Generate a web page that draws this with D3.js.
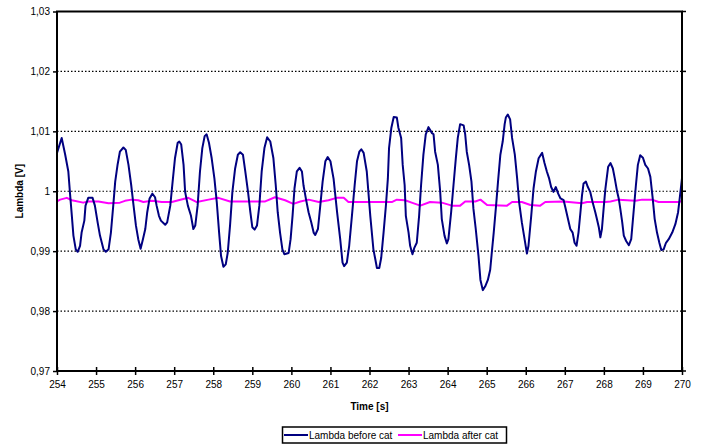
<!DOCTYPE html>
<html><head><meta charset="utf-8">
<script src="https://cdn.jsdelivr.net/npm/d3@7"></script>
<style>body{margin:0;background:#fff}svg{display:block}text{font-family:"Liberation Sans",Arial,sans-serif}</style>
</head><body>
<svg id="c" width="702" height="444"></svg>
<script>
const seriesNames = ["Lambda before cat", "Lambda after cat"];
const xTicks = [254,255,256,257,258,259,260,261,262,263,264,265,266,267,268,269,270];
const yTicks = [0.97,0.98,0.99,1.00,1.01,1.02,1.03];
const yTickLabels = ["0,97","0,98","0,99","1","1,01","1,02","1,03"];
const xTitle = "Time [s]";
const yTitle = "Lambda [V]";

const beforeT = [254.00,254.12,254.21,254.29,254.33,254.38,254.42,254.48,254.53,254.59,254.63,254.70,254.73,254.80,254.91,254.97,255.04,255.10,255.19,255.25,255.32,255.38,255.44,255.49,255.55,255.61,255.70,255.76,255.83,255.90,255.96,256.02,256.08,256.14,256.20,256.26,256.31,256.37,256.44,256.51,256.55,256.61,256.66,256.77,256.82,256.90,256.96,257.02,257.09,257.13,257.18,257.24,257.28,257.35,257.43,257.49,257.54,257.60,257.66,257.72,257.78,257.83,257.89,257.96,258.03,258.09,258.15,258.20,258.26,258.32,258.37,258.43,258.49,258.56,258.63,258.69,258.76,258.82,258.89,258.95,259.00,259.06,259.12,259.18,259.24,259.31,259.38,259.46,259.54,259.60,259.65,259.71,259.77,259.82,259.93,259.98,260.03,260.08,260.14,260.21,260.27,260.31,260.37,260.44,260.51,260.57,260.61,260.68,260.74,260.80,260.87,260.93,261.00,261.08,261.17,261.25,261.31,261.35,261.42,261.48,261.55,261.62,261.68,261.74,261.79,261.85,261.93,262.02,262.10,262.15,262.19,262.25,262.30,262.36,262.42,262.47,262.50,262.56,262.62,262.70,262.74,262.81,262.85,262.90,262.93,263.00,263.04,263.10,263.15,263.21,263.27,263.32,263.38,263.44,263.51,263.60,263.64,263.68,263.75,263.81,263.85,263.92,263.98,264.02,264.09,264.15,264.21,264.26,264.32,264.41,264.45,264.49,264.55,264.61,264.66,264.72,264.79,264.84,264.90,264.96,265.03,265.09,265.13,265.18,265.24,265.29,265.35,265.41,265.46,265.49,265.54,265.60,265.65,265.72,265.78,265.83,265.90,265.97,266.03,266.07,266.14,266.20,266.26,266.33,266.42,266.48,266.54,266.60,266.65,266.71,266.77,266.83,266.89,266.97,267.01,267.08,267.14,267.20,267.25,267.30,267.35,267.40,267.44,267.48,267.54,267.59,267.65,267.71,267.78,267.82,267.87,267.91,267.95,268.00,268.04,268.11,268.17,268.23,268.28,268.34,268.38,268.42,268.47,268.51,268.57,268.64,268.70,268.76,268.82,268.87,268.93,269.00,269.06,269.13,269.19,269.25,269.30,269.36,269.42,269.47,269.53,269.59,269.66,269.75,269.83,269.90,269.95,269.99,270.00];
const beforeV = [1.0064,1.0089,1.0061,1.0033,0.9999,0.9959,0.9926,0.9903,0.9899,0.9909,0.9931,0.9951,0.9976,0.9989,0.9989,0.9976,0.9948,0.9926,0.9903,0.9899,0.9903,0.9931,0.9976,1.0016,1.0044,1.0066,1.0073,1.0069,1.0044,1.0010,0.9976,0.9943,0.9920,0.9904,0.9920,0.9937,0.9965,0.9988,0.9996,0.9990,0.9976,0.9959,0.9951,0.9944,0.9948,0.9976,1.0016,1.0055,1.0081,1.0083,1.0078,1.0044,0.9999,0.9976,0.9959,0.9937,0.9943,0.9976,1.0033,1.0072,1.0092,1.0095,1.0081,1.0055,1.0021,0.9982,0.9931,0.9892,0.9874,0.9878,0.9897,0.9943,0.9999,1.0038,1.0061,1.0065,1.0061,1.0033,0.9999,0.9965,0.9940,0.9936,0.9943,0.9976,1.0033,1.0072,1.0090,1.0083,1.0055,1.0010,0.9965,0.9931,0.9903,0.9895,0.9897,0.9920,0.9959,1.0005,1.0033,1.0039,1.0033,1.0010,0.9988,0.9965,0.9948,0.9931,0.9927,0.9937,0.9976,1.0016,1.0050,1.0057,1.0050,1.0021,0.9965,0.9920,0.9881,0.9875,0.9881,0.9909,0.9959,1.0010,1.0050,1.0066,1.0070,1.0064,1.0033,0.9959,0.9903,0.9886,0.9872,0.9872,0.9889,0.9931,0.9976,1.0021,1.0072,1.0106,1.0124,1.0123,1.0106,1.0089,1.0044,1.0010,0.9959,0.9931,0.9909,0.9895,0.9906,0.9914,0.9959,1.0010,1.0061,1.0095,1.0107,1.0097,1.0095,1.0066,1.0044,0.9999,0.9954,0.9926,0.9913,0.9920,0.9965,1.0010,1.0055,1.0089,1.0112,1.0110,1.0095,1.0066,1.0044,1.0016,0.9971,0.9937,0.9892,0.9852,0.9835,0.9841,0.9852,0.9869,0.9897,0.9931,0.9976,1.0016,1.0061,1.0083,1.0112,1.0123,1.0128,1.0120,1.0089,1.0061,1.0021,0.9982,0.9948,0.9920,0.9896,0.9909,0.9959,1.0005,1.0033,1.0055,1.0064,1.0047,1.0033,1.0021,1.0007,0.9999,1.0007,0.9996,0.9988,0.9985,0.9974,0.9954,0.9937,0.9931,0.9914,0.9909,0.9931,0.9965,0.9993,1.0013,1.0016,1.0007,0.9999,0.9982,0.9965,0.9954,0.9940,0.9923,0.9937,0.9976,1.0005,1.0041,1.0047,1.0038,1.0021,0.9999,0.9988,0.9971,0.9948,0.9926,0.9917,0.9910,0.9920,0.9965,1.0010,1.0044,1.0060,1.0056,1.0044,1.0038,1.0024,0.9988,0.9954,0.9931,0.9914,0.9902,0.9903,0.9914,0.9920,0.9931,0.9945,0.9965,0.9993,1.0016,1.0022];

const afterT = [254.00,254.08,254.25,254.38,254.67,254.80,255.06,255.32,255.61,255.74,255.91,256.08,256.21,256.43,256.68,256.94,257.11,257.36,257.58,257.88,258.13,258.43,259.33,259.58,259.84,260.05,260.23,260.44,260.70,260.95,261.16,261.34,261.46,262.15,262.57,262.70,262.91,263.08,263.30,263.55,263.85,264.11,264.32,264.45,264.71,264.84,265.01,265.52,265.65,265.90,266.12,266.37,266.50,266.97,267.44,267.57,268.04,268.17,268.38,268.81,268.98,269.23,269.40,269.92,270.00];
const afterV = [0.9983,0.9986,0.9989,0.9985,0.9981,0.9983,0.9983,0.9980,0.9981,0.9984,0.9986,0.9985,0.9982,0.9984,0.9982,0.9982,0.9985,0.9989,0.9982,0.9986,0.9989,0.9983,0.9983,0.9990,0.9985,0.9979,0.9983,0.9986,0.9982,0.9985,0.9989,0.9989,0.9982,0.9982,0.9982,0.9986,0.9985,0.9981,0.9976,0.9982,0.9981,0.9976,0.9976,0.9983,0.9983,0.9986,0.9977,0.9976,0.9982,0.9982,0.9977,0.9976,0.9982,0.9983,0.9980,0.9982,0.9982,0.9983,0.9986,0.9984,0.9986,0.9986,0.9982,0.9982,0.9984];

const colors = ["#000080", "#FF00FF"];

const L = 57, R = 682, T = 11.5, B = 371;
const svg = d3.select("#c");
const x = d3.scaleLinear().domain([254, 270]).range([L, R]);
const y = d3.scaleLinear().domain([0.97, 1.03]).range([B, T]);

// grid
svg.append("g").selectAll("line").data(yTicks.slice(1, -1)).join("line")
  .attr("x1", L).attr("x2", R).attr("y1", d => y(d)).attr("y2", d => y(d))
  .attr("stroke", "#000").attr("stroke-width", 1.2).attr("stroke-dasharray", "1.5,2");

const clip = svg.append("clipPath").attr("id", "pc").append("rect")
  .attr("x", L).attr("y", T).attr("width", R - L).attr("height", B - T);

const line = d3.line().x(d => x(d[0])).y(d => y(d[1]));
const sets = [d3.zip(beforeT, beforeV), d3.zip(afterT, afterV)];
const g = svg.append("g").attr("clip-path", "url(#pc)");
[1, 0].forEach(i => {
  g.append("path").attr("d", line(sets[i])).attr("fill", "none")
    .attr("stroke", colors[i]).attr("stroke-width", 2).attr("stroke-linejoin", "round");
});

// border
svg.append("rect").attr("x", L).attr("y", T).attr("width", R - L).attr("height", B - T)
  .attr("fill", "none").attr("stroke", "#000").attr("stroke-width", 2);

// y axis
const ya = svg.append("g").attr("transform", `translate(${L},0)`)
  .call(d3.axisLeft(y).tickValues(yTicks).tickSize(4).tickPadding(3)
    .tickFormat((d, i) => yTickLabels[i]));
ya.select(".domain").remove();
ya.selectAll("line").attr("stroke", "#000").attr("stroke-width", 1.5);
ya.selectAll("text").attr("font-size", 10).attr("fill", "#000")
  .attr("font-family", "Liberation Sans, Arial, sans-serif");

// right ticks
svg.append("g").selectAll("line").data(yTicks).join("line")
  .attr("x1", R).attr("x2", R + 4).attr("y1", d => y(d)).attr("y2", d => y(d))
  .attr("stroke", "#000").attr("stroke-width", 1.5);

// x axis
const xa = svg.append("g").attr("transform", `translate(0,${B})`)
  .call(d3.axisBottom(x).tickValues(xTicks).tickSize(4).tickPadding(6).tickFormat(d3.format("d")));
xa.select(".domain").remove();
xa.selectAll("line").attr("y1", -4).attr("stroke", "#000").attr("stroke-width", 1.5);
xa.selectAll("text").attr("font-size", 10).attr("fill", "#000")
  .attr("font-family", "Liberation Sans, Arial, sans-serif");

// titles
svg.append("text").attr("x", (L + R) / 2).attr("y", 410).attr("text-anchor", "middle")
  .attr("font-size", 10).attr("font-weight", "bold").text(xTitle);
svg.append("text").attr("transform", `translate(23,${(T + B) / 2}) rotate(-90)`)
  .attr("text-anchor", "middle").attr("font-size", 10).attr("font-weight", "bold").text(yTitle);

// legend
const lg = svg.append("g");
lg.append("rect").attr("x", 282.5).attr("y", 427).attr("width", 224).attr("height", 16)
  .attr("fill", "#fff").attr("stroke", "#000").attr("stroke-width", 1.5);
const lx = [284, 398];
seriesNames.forEach((n, i) => {
  lg.append("line").attr("x1", lx[i]).attr("x2", lx[i] + 24).attr("y1", 435).attr("y2", 435)
    .attr("stroke", colors[i]).attr("stroke-width", 2);
  lg.append("text").attr("x", lx[i] + 25).attr("y", 438.5).attr("font-size", 10).text(n);
});
</script>
</body></html>
